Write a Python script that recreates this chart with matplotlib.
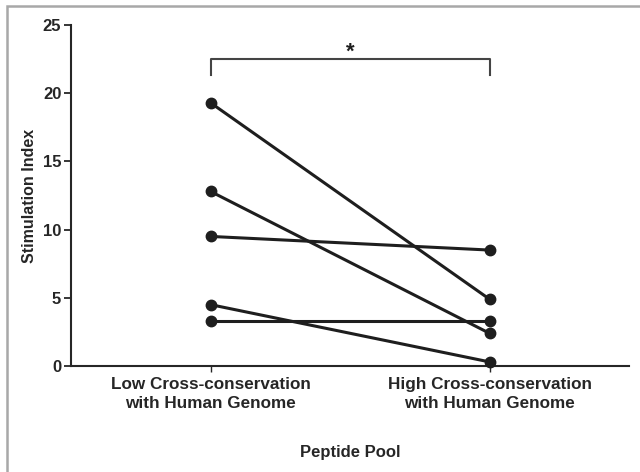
import numpy as np
import matplotlib
matplotlib.use("Agg")
from matplotlib import pyplot as plt
from matplotlib.patches import Rectangle

# data
categories = ["Low Cross-conservation\nwith Human Genome",
              "High Cross-conservation\nwith Human Genome"]
low_values = [19.3, 12.8, 9.5, 4.5, 3.3]
high_values = [4.9, 2.4, 8.5, 0.3, 3.3]
yticks = [0, 5, 10, 15, 20, 25]

plt.rcParams["font.family"] = ["Liberation Sans", "DejaVu Sans"]
plt.rcParams["font.weight"] = "bold"
plt.rcParams["axes.labelweight"] = "bold"

fig = plt.figure(figsize=(6.4, 4.72), dpi=100)
fig.patch.set_facecolor("white")

# scanned-figure frame
fig.patches.append(Rectangle((7 / 640, -0.1), 1.2, 1 - 6 / 472 + 0.1,
                             transform=fig.transFigure, fill=False,
                             edgecolor="#a8a8a8", linewidth=1.8, zorder=0))

ax = fig.add_axes([71 / 640, 1 - 366 / 472, (629 - 71) / 640, (366 - 25) / 472])
ax.set_facecolor("none")

ink = "#1e1e1e"
x = np.arange(len(categories))
for lo, hi in zip(low_values, high_values):
    ax.plot(x, [lo, hi], color=ink, lw=2.2, marker="o", markersize=7.5,
            solid_capstyle="round", clip_on=False, zorder=3)

# significance bracket
ax.plot([0, 0, 1, 1], [21.3, 22.5, 22.5, 21.3], color="#444444", lw=1.5)
ax.text(0.5, 22.2, "*", ha="center", va="bottom", fontsize=16, color=ink)

ax.set_xlim(-0.5, 1.5)
ax.set_ylim(0, 25)
ax.set_yticks(yticks)
ax.set_xticks(x)
ax.set_xticklabels(categories, fontsize=12.3, color="#262626", linespacing=1.35)
ax.tick_params(axis="y", labelsize=12, length=5, width=1.3, colors="#262626", pad=2)
ax.tick_params(axis="x", length=4, width=1.0, colors="#262626", pad=4)

for side in ("top", "right"):
    ax.spines[side].set_visible(False)
for side in ("left", "bottom"):
    ax.spines[side].set_linewidth(1.5)
    ax.spines[side].set_color("#262626")

ax.set_ylabel("Stimulation Index", fontsize=11.5, color="#262626", labelpad=4)
fig.text(350 / 640, 1 - 452 / 472, "Peptide Pool", ha="center", va="center",
         fontsize=12, color="#262626", weight="bold")

fig.savefig("out.png", dpi=100)
